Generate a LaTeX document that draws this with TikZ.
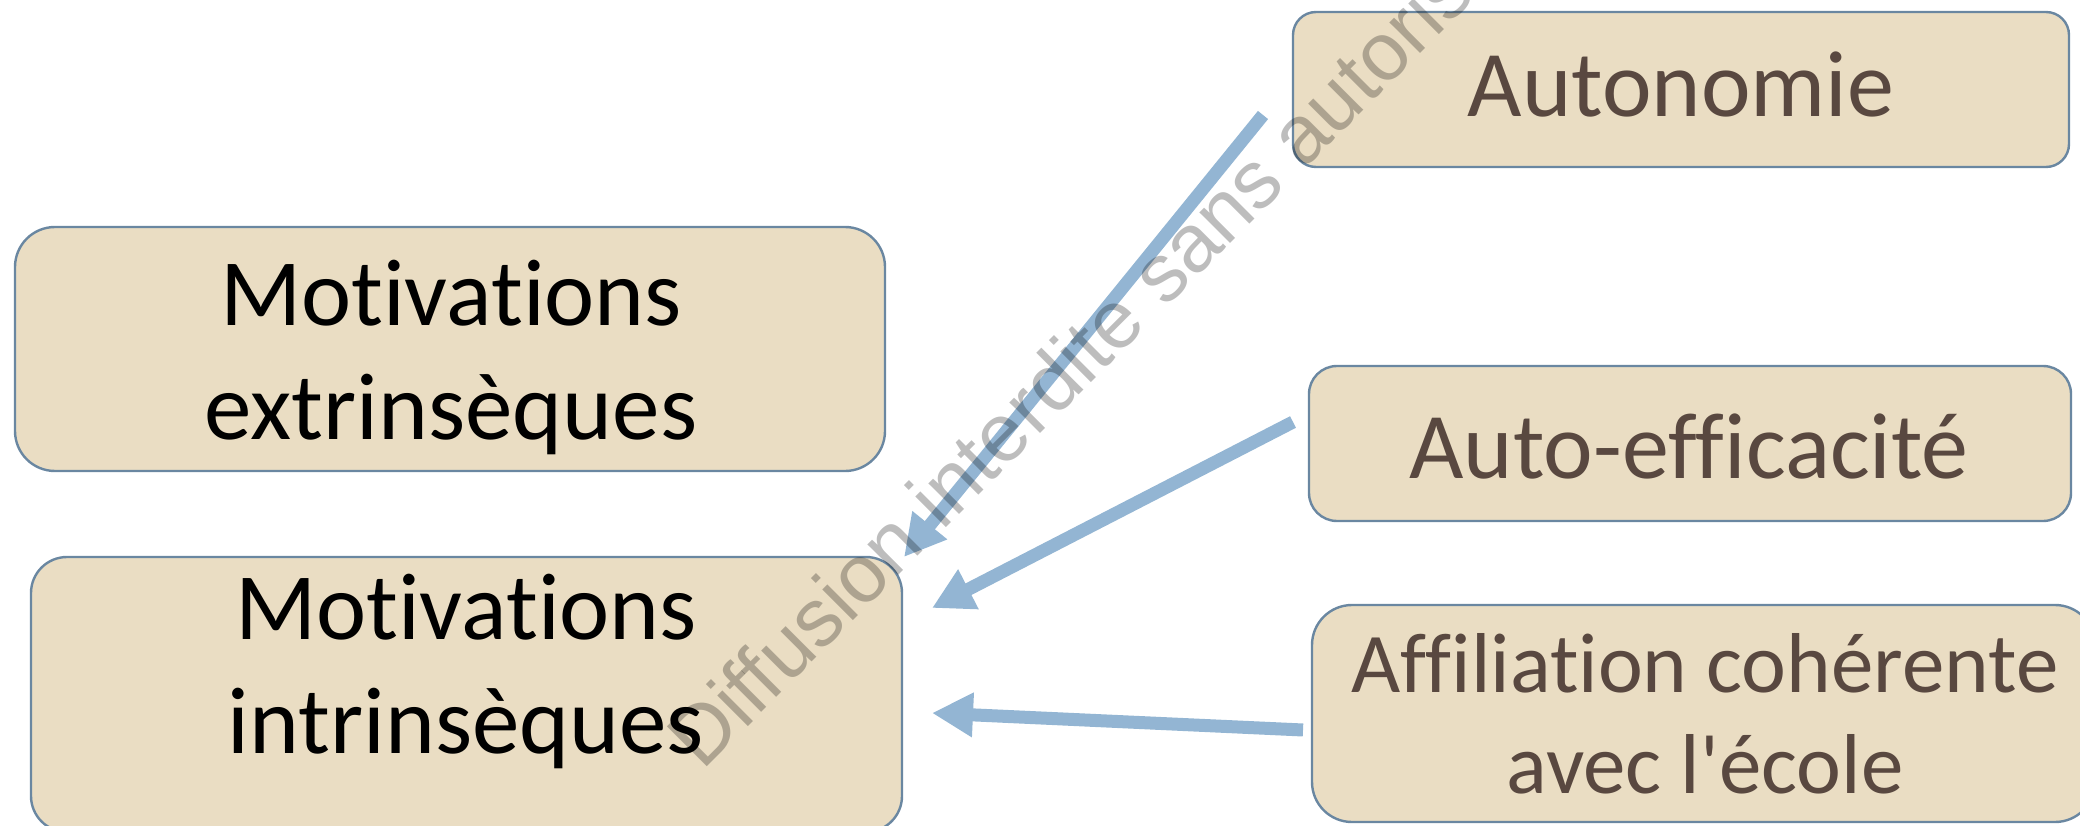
\documentclass[tikz,border=0pt]{standalone}
\usepackage{fontspec}
\setmainfont{Carlito}[Ligatures=NoCommon]
\newfontfamily\markfont{Liberation Sans}
\usetikzlibrary{arrows.meta}
\definecolor{boxfill}{HTML}{EADDC3}
\definecolor{boxline}{HTML}{6A87A1}
\definecolor{arrowblue}{HTML}{93B5D3}
\definecolor{browntext}{HTML}{594840}
\begin{document}
\begin{tikzpicture}[x=1pt,y=-1pt,
  tile/.style={draw=boxline, line width=2.4pt, fill=boxfill, rounded corners=#1, inner sep=0pt},
  bigtext/.style={font=\fontsize{95}{114}\selectfont, align=center, inner sep=0pt, text=black},
  midtext/.style={font=\fontsize{94}{112}\selectfont, align=center, inner sep=0pt, text=browntext},
  smalltext/.style={font=\fontsize{85}{101}\selectfont, align=center, inner sep=0pt, text=browntext},
  link/.style={draw=arrowblue, line width=13pt, -{Triangle[length=41pt,width=42pt]}},
  stamp/.style={font=\markfont\fontsize{82}{95}\selectfont, text=black, text opacity=0.26,
    rotate=45, anchor=base west, inner sep=0pt},
]
\useasboundingbox (0,0) rectangle (2080,826);

% boxes
\node[tile=40pt, minimum width=870pt, minimum height=244pt] (ext) at (450,349) {};
\node[tile=36pt, minimum width=871pt, minimum height=275pt] (int) at (466.5,694.5) {};
\node[tile=23pt, minimum width=776pt, minimum height=155pt] (aut) at (1681,89.5) {};
\node[tile=28pt, minimum width=762pt, minimum height=155pt] (eff) at (1690,443.5) {};
\node[tile=40pt, minimum width=783pt, minimum height=217pt] (aff) at (1703.5,713.5) {};

% labels (base anchor = baseline of the last line)
\node[bigtext, anchor=base] (ext-txt) at (451,439) {Motivations\\extrinsèques};
\node[bigtext, anchor=base] (int-txt) at (466,753) {Motivations\\intrinsèques};
\node[midtext, anchor=base] (aut-txt) at (1681,117) {Autonomie};
\node[midtext, anchor=base] (eff-txt) at (1689,478) {Auto-efficacité};
\node[smalltext, anchor=base] (aff-txt) at (1705,793) {Affiliation cohérente\\avec l\textquotesingle école};

% arrow end points
\coordinate (a1s) at (1263,115);
\coordinate (a1e) at (904,557);
\coordinate (a2s) at (1293,422);
\coordinate (a2e) at (932,608);
\coordinate (a3s) at (1303,730);
\coordinate (a3e) at (932,713);
\draw[link] (a1s) -- (a1e);
\draw[link] (a2s) -- (a2e);
\draw[link] (a3s) -- (a3e);

% watermark
\node[stamp] (wm) at (702,772) {Diffusion interdite sans autorisation};
\end{tikzpicture}
\end{document}
